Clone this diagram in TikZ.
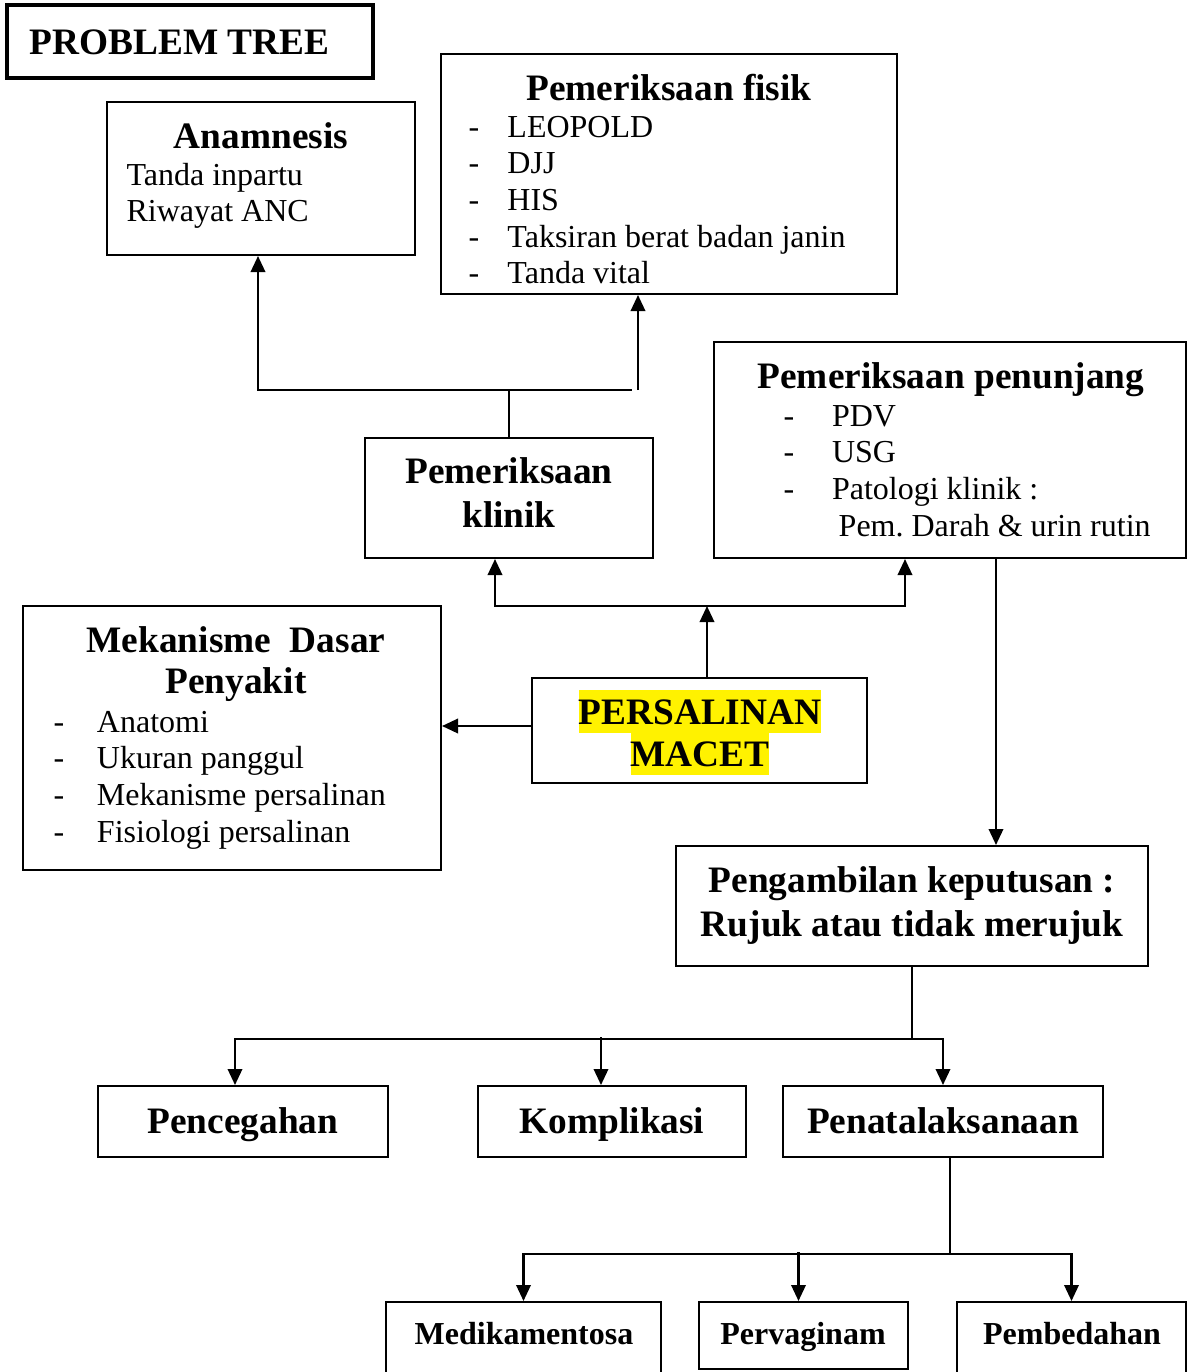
\documentclass[tikz,border=0pt]{standalone}
\usepackage{fontspec}
\setmainfont{Liberation Serif}
\usetikzlibrary{arrows.meta,calc,fit}

\begin{document}
\begin{tikzpicture}[x=0.375pt,y=-0.375pt,
 kotak/.style={draw,line width=0.75pt,inner sep=0pt},
 judul/.style={inner sep=0pt,font=\fontsize{14}{16.5}\selectfont\bfseries},
 judulkecil/.style={inner sep=0pt,font=\fontsize{12}{14}\selectfont\bfseries},
 isi/.style={inner sep=0pt,font=\fontsize{12}{13.75}\selectfont},
 sorot/.style={judul,fill=yellow,text height=12.6pt,text depth=3.3pt},
 garis/.style={line width=0.85pt},
 panah/.style={garis,-{Triangle[length=6pt,width=5.4pt]}}]

\newcommand{\daftar}[2] % [dash width][rows]
{\begin{tabular}[t]{@{}p{#1}@{}l@{}}#2\end{tabular}}
\newcommand{\baris}[2] % [align][rows]
{\begin{tabular}[t]{@{}#1@{}}#2\end{tabular}}

\useasboundingbox (0,0) rectangle (1189,1372);

% judul
\node[kotak,line width=1.3pt,fit={(7,5) (373,78)}] (pohon) {};
\node[judul,anchor=base west] (pohonJ) at (29,54) {PROBLEM TREE};

% anamnesis & pemeriksaan fisik
\node[kotak,fit={(107,102) (415,255)}] (anamnesis) {};
\node[judul,anchor=base] (anamnesisJ) at (261,148) {Anamnesis};
\node[isi,anchor=base west] (anamnesisI) at (126,185)
 {\baris{l}{Tanda inpartu\\Riwayat ANC}};

\node[kotak,fit={(441,54) (897,294)}] (fisik) {};
\node[judul,anchor=base] (fisikJ) at (669,100) {Pemeriksaan fisik};
\node[isi,anchor=base west] (fisikI) at (468,137)
 {\daftar{14.6pt}{-&LEOPOLD\\-&DJJ\\-&HIS\\-&Taksiran berat badan janin\\-&Tanda vital}};

% pemeriksaan klinik & penunjang
\node[kotak,fit={(365,438) (653,558)}] (klinik) {};
\node[judul,anchor=base] (klinikJ) at (509,483) {\baris{c}{Pemeriksaan\\klinik}};

\node[kotak,fit={(714,342) (1186,558)}] (penunjang) {};
\node[judul,anchor=base] (penunjangJ) at (951,388) {Pemeriksaan penunjang};
\node[isi,anchor=base west] (penunjangI) at (783,426)
 {\daftar{18.2pt}{-&PDV\\-&USG\\-&Patologi klinik :\\&\hspace{2.5pt}Pem.\ Darah \& urin rutin}};

% mekanisme & persalinan macet
\node[kotak,fit={(23,606) (441,870)}] (mekanisme) {};
\node[judul,anchor=base] (mekanismeJ) at (236,652)
 {\baris{c}{Mekanisme\ \ Dasar\\[-1.1pt]Penyakit}};
\node[isi,anchor=base west] (mekanismeI) at (53,732)
 {\daftar{16.3pt}{-&Anatomi\\-&Ukuran panggul\\-&Mekanisme persalinan\\-&Fisiologi persalinan}};

\node[kotak,fit={(532,678) (867,783)}] (persalinan) {};
\node[sorot,anchor=base] (persalinanA) at (700,724) {PERSALINAN};
\node[sorot,anchor=base] (persalinanB) at (700,766) {MACET};

% keputusan
\node[kotak,fit={(676,846) (1148,966)}] (keputusan) {};
\node[judul,anchor=base] (keputusanJ) at (912,892)
 {\baris{c}{Pengambilan keputusan :\\Rujuk atau tidak merujuk}};

\node[kotak,fit={(98,1086) (388,1157)}] (pencegahan) {};
\node[judul,anchor=base] (pencegahanJ) at (243,1133) {Pencegahan};
\node[kotak,fit={(478,1086) (746,1157)}] (komplikasi) {};
\node[judul,anchor=base] (komplikasiJ) at (612,1133) {Komplikasi};
\node[kotak,fit={(783,1086) (1103,1157)}] (penatalaksanaan) {};
\node[judul,anchor=base] (penatalaksanaanJ) at (943,1133) {Penatalaksanaan};

\node[kotak,fit={(386,1302) (661,1390)}] (medikamentosa) {};
\node[judulkecil,anchor=base] (medikamentosaJ) at (524,1344) {Medikamentosa};
\node[kotak,fit={(699,1302) (908,1369)}] (pervaginam) {};
\node[judulkecil,anchor=base] (pervaginamJ) at (803,1344) {Pervaginam};
\node[kotak,fit={(957,1302) (1186,1390)}] (pembedahan) {};
\node[judulkecil,anchor=base] (pembedahanJ) at (1072,1344) {Pembedahan};

% panah atas
\coordinate (cabangA) at (klinik.north |- 0,390);
\coordinate (ujungA) at (632,390);
\coordinate (pangkalA) at (638,390);
\draw[garis] (klinik.north) -- (cabangA) -- (ujungA);
\draw[panah] (cabangA) -| ($(anamnesis.south)+(-3,0)$);
\draw[panah] (pangkalA) -- (pangkalA |- fisik.south);

\coordinate (cabangB) at (707,606);
\draw[panah] (cabangB |- persalinan.north) -- (cabangB);
\draw[panah] (cabangB) -| ($(klinik.south)+(-14,0)$);
\draw[panah] (cabangB) -| ($(penunjang.south)+(-45,0)$);

\coordinate (kiri) at ($(persalinan.west)+(0,-4.5)$);
\draw[panah] (kiri) -- (kiri -| mekanisme.east);

\coordinate (turun) at ($(penunjang.south)+(46,0)$);
\draw[panah] (turun) -- (turun |- keputusan.north);

% panah bawah
\coordinate (cabangC) at ($(keputusan.south)+(0,72)$);
\draw[garis] (keputusan.south) -- (cabangC);
\draw[panah] (cabangC) -| ($(pencegahan.north)+(-8,0)$);
\draw[panah] (cabangC) -| (penatalaksanaan.north);
\draw[panah] ($(komplikasi.north)+(-11,-48)$) -- ($(komplikasi.north)+(-11,0)$);

\coordinate (cabangD) at ($(penatalaksanaan.south)+(7,96)$);
\draw[garis] (cabangD |- penatalaksanaan.south) -- (cabangD);
\draw[panah] (cabangD) -| (medikamentosa.north);
\draw[panah] (cabangD) -| (pembedahan.north);
\draw[panah] ($(pervaginam.north)+(-5,-49)$) -- ($(pervaginam.north)+(-5,0)$);

\end{tikzpicture}
\end{document}
